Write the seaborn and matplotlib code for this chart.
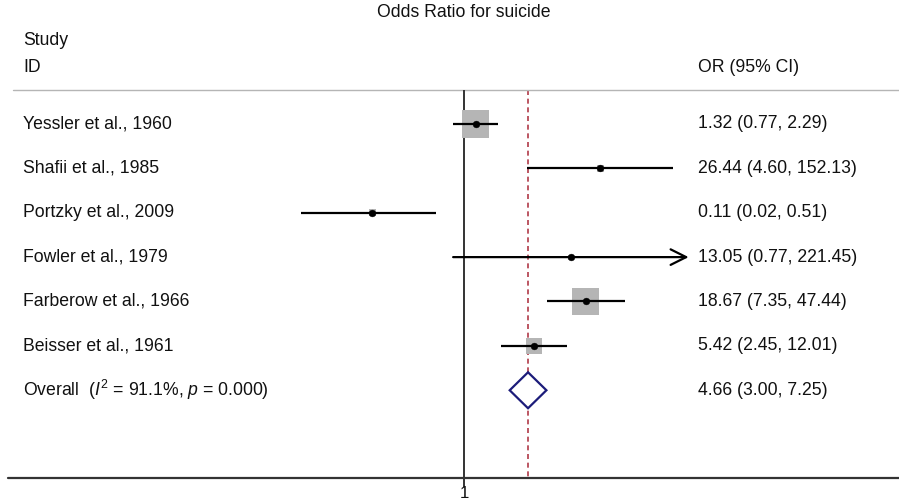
import numpy as np
import pandas as pd
import matplotlib
matplotlib.use("Agg")
import matplotlib.pyplot as plt
import matplotlib.transforms as mtransforms
import seaborn as sns

# data
studies = ["Yessler et al., 1960", "Shafii et al., 1985", "Portzky et al., 2009",
           "Fowler et al., 1979", "Farberow et al., 1966", "Beisser et al., 1961"]
odds_ratio = [1.32, 26.44, 0.11, 13.05, 18.67, 5.42]
ci_low = [0.77, 4.60, 0.02, 0.77, 7.35, 2.45]
ci_high = [2.29, 152.13, 0.51, 221.45, 47.44, 12.01]
weights = [27.5, 1.9, 1.9, 0.9, 27.5, 9.6]
overall_or = 4.66
overall_low = 3.00
overall_high = 7.25
i_squared = 91.1
p_value = 0.000

sns.set_theme(style="white")
plt.rcParams["font.family"] = ["Liberation Sans", "DejaVu Sans"]
plt.rcParams["mathtext.fontset"] = "custom"
plt.rcParams["mathtext.rm"] = "Liberation Sans"
plt.rcParams["mathtext.it"] = "Liberation Sans:italic"
plt.rcParams["text.color"] = "#111111"

df = pd.DataFrame({"study": studies, "OR": odds_ratio, "low": ci_low,
                   "high": ci_high, "weight": weights})
df["row"] = np.arange(len(df))
overall_row = len(df)

fig = plt.figure(figsize=(8.99, 5.03), dpi=100)
ax = fig.add_axes([0, 0, 1, 1])
ax.set_xscale("log")
ax.set_xlim(np.exp(-464 / 41.6), np.exp(435 / 41.6))
ax.set_ylim(8.54, -2.793)
ax.axis("off")
blend = mtransforms.blended_transform_factory(ax.transAxes, ax.transData)

top, bottom = -0.766, 7.97
fs = 12.7

# header rule and bottom axis
ax.plot([0.015, 1], [top, top], color="#b5b5b5", lw=1.0, transform=blend)
ax.plot([0.009, 1], [bottom, bottom], color="#333333", lw=1.6, transform=blend)

# null line and overall line
ax.vlines(1, top, bottom + 0.2, color="#333333", lw=1.4, zorder=2)
ax.vlines(overall_or, top, bottom, color="#b03a48", lw=1.2,
          linestyles=(0, (3, 2.2)), zorder=1)

# confidence intervals
for _, r in df.iterrows():
    if r["study"].startswith("Fowler"):
        ax.annotate("", xy=(r["high"], r["row"]), xytext=(r["low"], r["row"]),
                    arrowprops=dict(arrowstyle="->", lw=1.6, color="black",
                                    mutation_scale=28, shrinkA=0, shrinkB=0),
                    zorder=4)
    else:
        ax.hlines(r["row"], r["low"], r["high"], color="black", lw=1.6, zorder=4)

# weight boxes and point estimates
sns.scatterplot(data=df, x="OR", y="row", size="weight", sizes=(0, 390),
                size_norm=(0, 27.5), marker="s", color="#b5b5b5",
                edgecolor="none", linewidth=0, legend=False, ax=ax, zorder=3)
sns.scatterplot(data=df, x="OR", y="row", marker="o", s=24, color="black",
                edgecolor="black", linewidth=0.3, legend=False, ax=ax, zorder=5)

# overall diamond
h = 0.405
ax.fill([overall_low, overall_or, overall_high, overall_or],
        [overall_row, overall_row - h, overall_row, overall_row + h],
        facecolor="white", edgecolor="#1c1c7a", lw=1.6, zorder=6)

# text columns
ax.text(1, -2.52, "Odds Ratio for suicide", ha="center", va="center", fontsize=fs)
ax.text(0.0256, -1.89, "Study", ha="left", va="center", fontsize=fs, transform=blend)
ax.text(0.0256, -1.28, "ID", ha="left", va="center", fontsize=fs, transform=blend)
ax.text(0.776, -1.28, "OR (95% CI)", ha="left", va="center", fontsize=fs, transform=blend)

for _, r in df.iterrows():
    ax.text(0.0256, r["row"], r["study"], ha="left", va="center", fontsize=fs,
            transform=blend)
    ax.text(0.776, r["row"], f"{r['OR']:.2f} ({r['low']:.2f}, {r['high']:.2f})",
            ha="left", va="center", fontsize=fs, transform=blend)

ax.text(0.0256, overall_row,
        f"Overall  ($I^2$ = {i_squared:.1f}%, $p$ = {p_value:.3f})",
        ha="left", va="center", fontsize=fs, transform=blend)
ax.text(0.776, overall_row,
        f"{overall_or:.2f} ({overall_low:.2f}, {overall_high:.2f})",
        ha="left", va="center", fontsize=fs, transform=blend)

ax.text(1, 8.33, "1", ha="center", va="center", fontsize=fs - 0.5)

fig.savefig("out.png", dpi=100)
